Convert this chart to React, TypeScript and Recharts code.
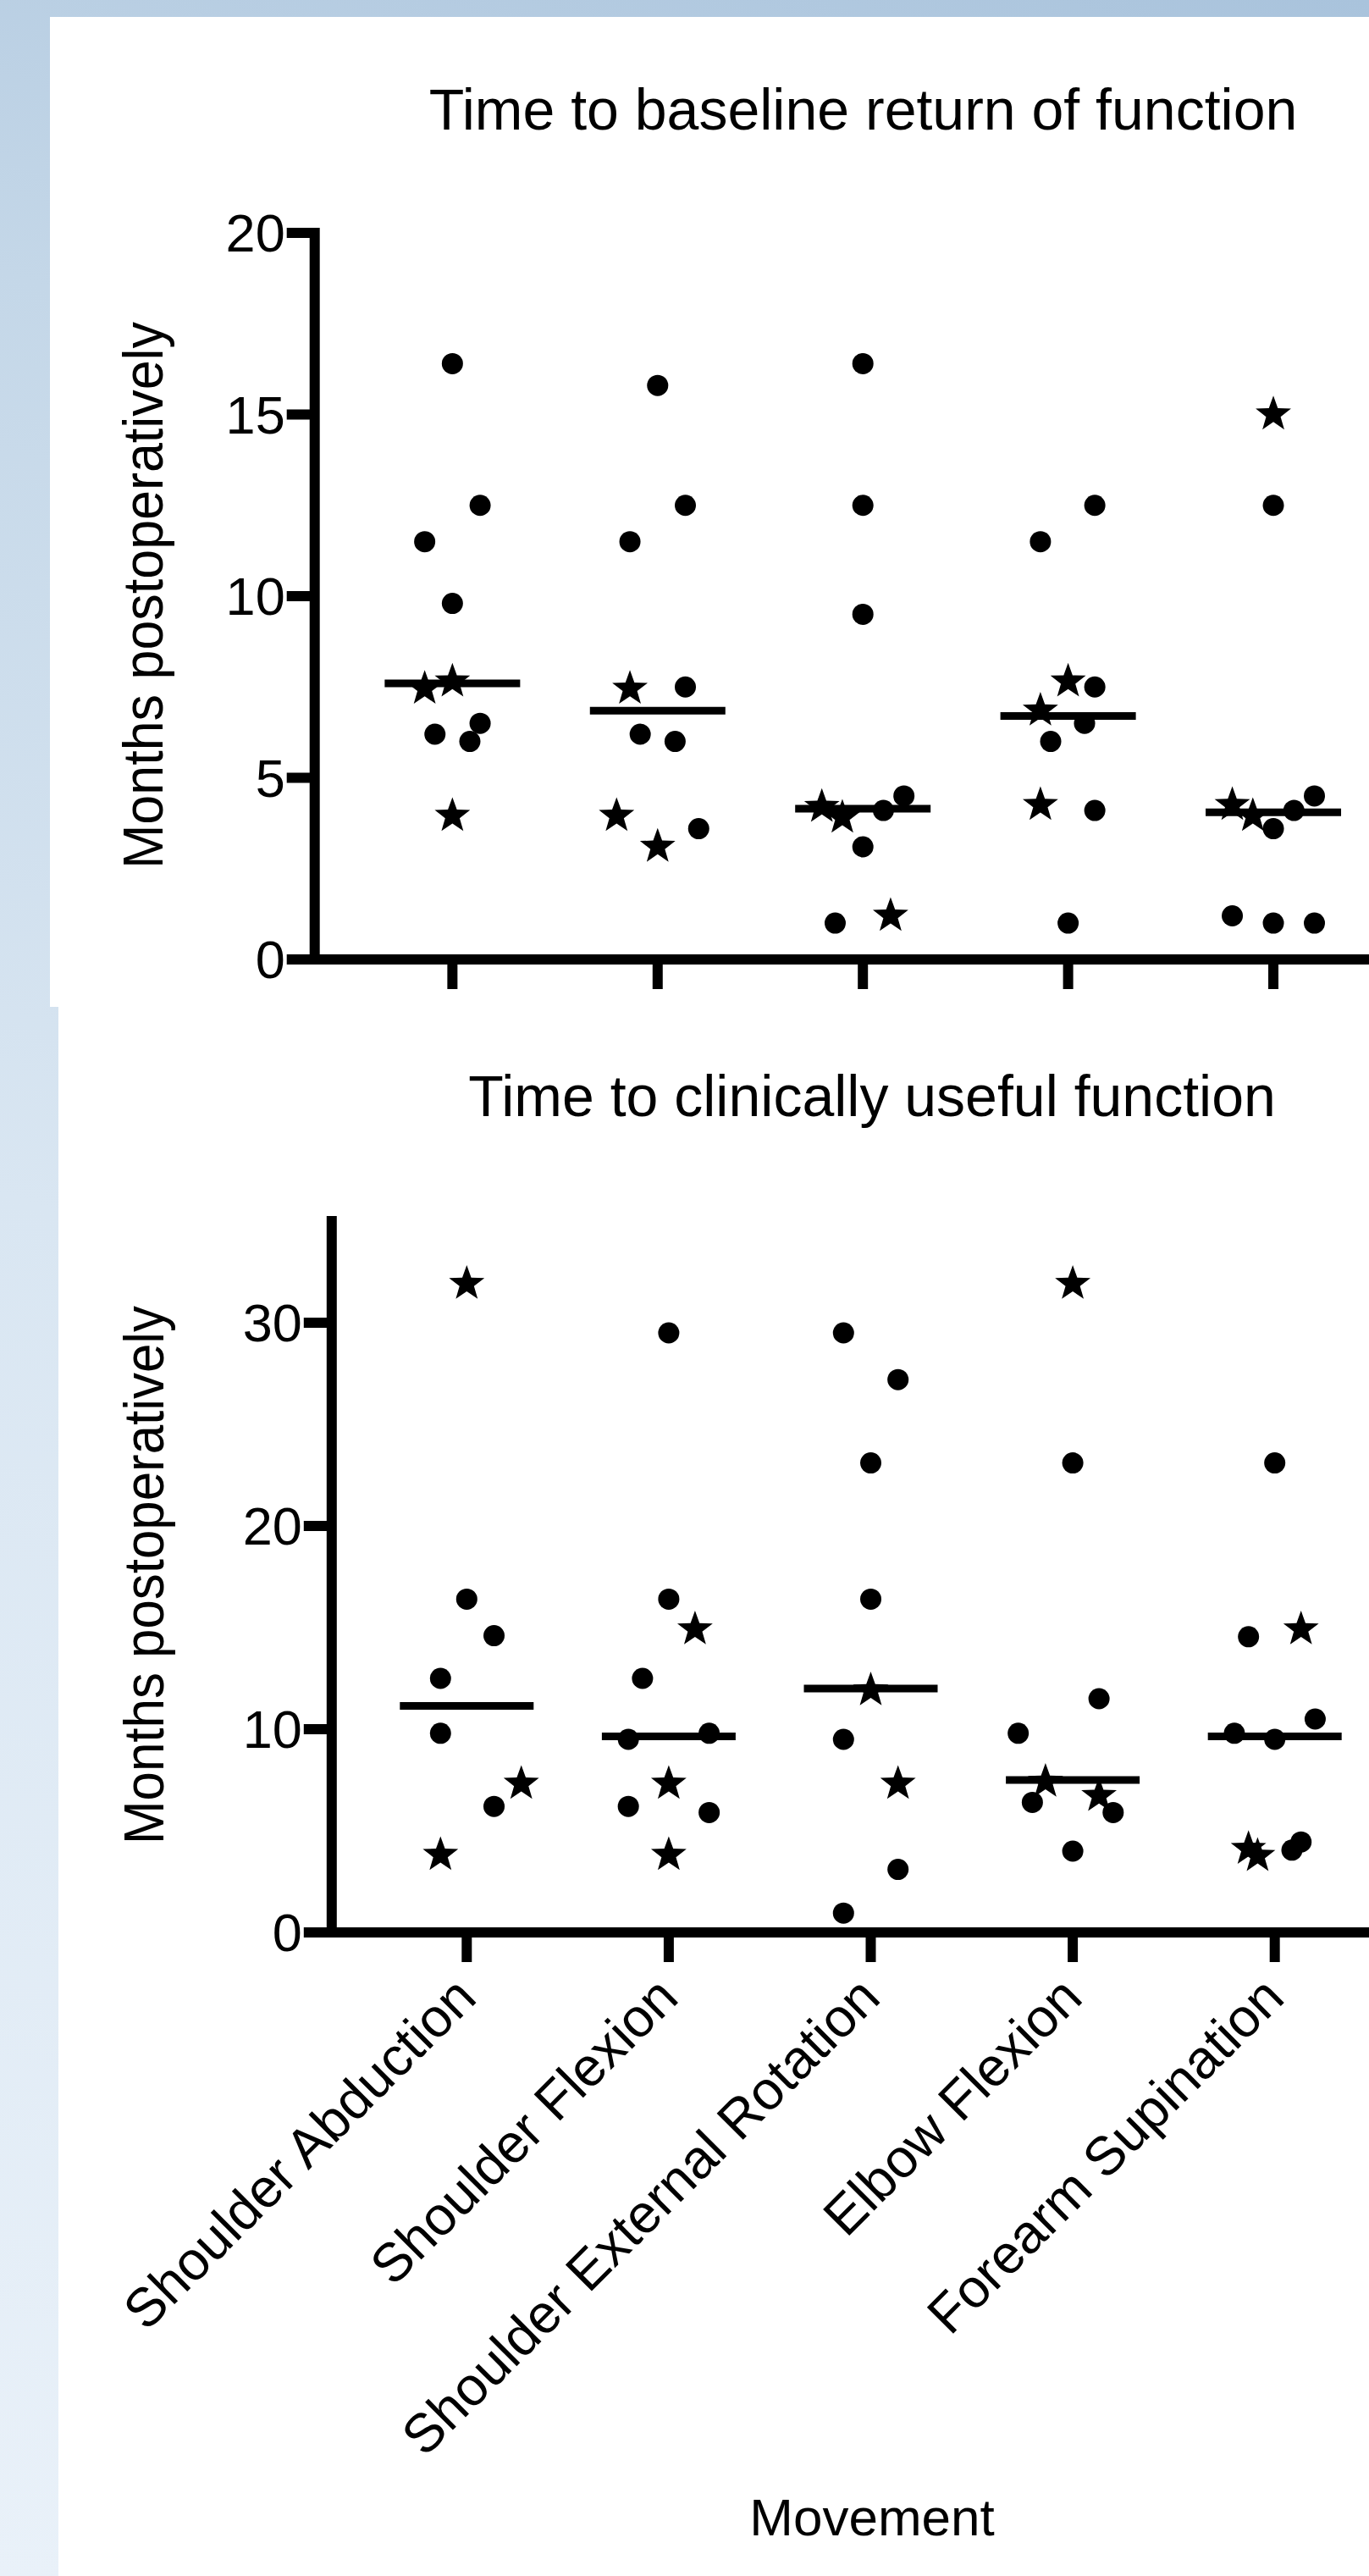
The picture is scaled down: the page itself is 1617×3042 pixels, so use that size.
import { Scatter, ScatterChart, XAxis, YAxis } from "recharts";

const movements = [
  "Shoulder Abduction",
  "Shoulder Flexion",
  "Shoulder External Rotation",
  "Elbow Flexion",
  "Forearm Supination",
];

// rows are [movement 1-5, spread inside the column, months]
const baselineDots = [
  [1, 0, 16.4], [1, 0.135, 12.5], [1, -0.135, 11.5], [1, 0, 9.8], [1, 0.135, 6.5], [1, -0.085, 6.2], [1, 0.085, 6.0],
  [2, 0, 15.8], [2, 0.135, 12.5], [2, -0.135, 11.5], [2, 0.135, 7.5], [2, -0.085, 6.2], [2, 0.085, 6.0], [2, 0.2, 3.6],
  [3, 0, 16.4], [3, 0, 12.5], [3, 0, 9.5], [3, 0.1, 4.1], [3, 0.2, 4.5], [3, 0, 3.1], [3, -0.135, 1.0],
  [4, 0.13, 12.5], [4, -0.135, 11.5], [4, 0.13, 7.5], [4, 0.08, 6.5], [4, -0.085, 6.0], [4, 0.13, 4.1], [4, 0, 1.0],
  [5, 0, 12.5], [5, 0.1, 4.1], [5, 0.2, 4.5], [5, 0, 3.6], [5, -0.2, 1.2], [5, 0, 1.0], [5, 0.2, 1.0],
];

const baselineStars = [
  [1, -0.135, 7.5], [1, 0, 7.7], [1, 0, 4.0],
  [2, -0.135, 7.5], [2, -0.2, 4.0], [2, 0, 3.15],
  [3, -0.2, 4.25], [3, -0.1, 3.95], [3, 0.135, 1.25],
  [4, 0, 7.7], [4, -0.135, 6.9], [4, -0.135, 4.3],
  [5, 0, 15.05], [5, -0.2, 4.3], [5, -0.1, 4.0],
];

const baselineMedians = [7.6, 6.85, 4.15, 6.7, 4.05];

const clinicalDots = [
  [1, 0, 16.4], [1, 0.135, 14.6], [1, -0.13, 12.5], [1, -0.13, 9.8], [1, 0.135, 6.2],
  [2, 0, 29.5], [2, 0, 16.4], [2, -0.13, 12.5], [2, -0.2, 9.5], [2, 0.2, 9.8], [2, -0.2, 6.2], [2, 0.2, 5.9],
  [3, -0.135, 29.5], [3, 0.135, 27.2], [3, 0, 23.1], [3, 0, 16.4], [3, -0.135, 9.5], [3, 0.135, 3.1], [3, -0.135, 0.95],
  [4, 0, 23.1], [4, 0.13, 11.5], [4, -0.27, 9.8], [4, -0.2, 6.4], [4, 0.2, 5.9], [4, 0, 4.0],
  [5, 0, 23.1], [5, -0.13, 14.55], [5, 0.2, 10.5], [5, -0.2, 9.8], [5, 0, 9.5], [5, 0.13, 4.45], [5, 0.085, 4.05],
];

const clinicalStars = [
  [1, 0, 32.0], [1, 0.27, 7.4], [1, -0.13, 3.9],
  [2, 0.13, 15.0], [2, 0, 7.4], [2, 0, 3.9],
  [3, 0, 12.0], [3, 0.135, 7.4],
  [4, 0, 32.0], [4, -0.135, 7.5], [4, 0.13, 6.8],
  [5, 0.13, 15.0], [5, -0.13, 4.2], [5, -0.085, 3.85],
];

const clinicalMedians = [11.15, 9.65, 12.0, 7.5, 9.65];

const baselineTicks = [0, 5, 10, 15, 20];
const clinicalTicks = [0, 10, 20, 30];
const movementTicks = [1, 2, 3, 4, 5];

const FONT = '"Liberation Sans", Arimo, Arial, Helvetica, sans-serif';
const INK = "#000";

const toPoints = (rows: number[][]) => rows.map(([movement, spread, months]) => ({ x: movement + spread, y: months }));
const medianPoints = (values: number[]) => values.map((months, i) => ({ x: i + 1, y: months }));

function Dot({ cx, cy }: any) {
  return <circle cx={cx} cy={cy} r={12.5} fill={INK} />;
}

function Star({ cx, cy }: any) {
  const pts: string[] = [];
  for (let i = 0; i < 10; i++) {
    const r = i % 2 === 0 ? 22 : 9;
    const a = -Math.PI / 2 + (i * Math.PI) / 5;
    pts.push(`${cx + r * Math.cos(a)},${cy + 2 + r * Math.sin(a)}`);
  }
  return <polygon points={pts.join(" ")} fill={INK} />;
}

const medianShape = (half: number) =>
  function Median({ cx, cy }: any) {
    return <line x1={cx - half} x2={cx + half} y1={cy} y2={cy} stroke={INK} strokeWidth={9} />;
  };

function MovementTick({ x, y, payload }: any) {
  const label = movements[Math.round(payload.value) - 1];
  const ax = x + 14;
  const ay = y + 43;
  return (
    <text x={ax} y={ay} transform={`rotate(-45, ${ax}, ${ay})`} textAnchor="end" fontSize={64} fontFamily={FONT} fill={INK}>
      {label}
    </text>
  );
}

// top panel keeps its tick marks but shows no names
const NoLabel = () => <g />;

const axisLine = { stroke: INK, strokeWidth: 12, strokeLinecap: "square" as const };
const tickLine = { stroke: INK, strokeWidth: 12 };

function Panel(props: {
  top: number;
  height: number;
  plotTop: number;
  axisX: number;
  span: number[];
  xHeight: number;
  yDomain: number[];
  yTicks: number[];
  dots: number[][];
  stars: number[][];
  medians: number[];
  half: number;
  labels: boolean;
}) {
  return (
    <div style={{ position: "absolute", left: 0, top: props.top, width: 1617, height: props.height }}>
      <ScatterChart width={1617} height={props.height} margin={{ top: props.plotTop, right: 0, bottom: 0, left: props.axisX - 80 }}>
        <XAxis
          type="number"
          dataKey="x"
          domain={props.span}
          allowDataOverflow
          ticks={movementTicks}
          interval={0}
          height={props.xHeight}
          tickSize={35}
          axisLine={axisLine}
          tickLine={tickLine}
          tick={props.labels ? MovementTick : NoLabel}
        />
        <YAxis
          type="number"
          dataKey="y"
          domain={props.yDomain}
          allowDataOverflow
          ticks={props.yTicks}
          interval={0}
          width={80}
          tickSize={33}
          axisLine={axisLine}
          tickLine={tickLine}
          tick={{ fill: INK, fontSize: 63, fontFamily: FONT }}
        />
        <Scatter data={toPoints(props.dots)} shape={Dot} isAnimationActive={false} />
        <Scatter data={toPoints(props.stars)} shape={Star} isAnimationActive={false} />
        <Scatter data={medianPoints(props.medians)} shape={medianShape(props.half)} isAnimationActive={false} />
      </ScatterChart>
    </div>
  );
}

export default function App() {
  return (
    <div
      style={{
        position: "absolute",
        left: 0,
        top: 0,
        width: 1617,
        height: 3042,
        overflow: "hidden",
        background: "linear-gradient(200deg, #a9c3dc 0%, #c4d7e8 25%, #d9e6f2 55%, #e9f1f9 100%)",
      }}
    >
      <div style={{ position: "absolute", left: 59, top: 20, width: 1558, height: 1169, background: "#fff" }} />
      <div style={{ position: "absolute", left: 69, top: 1189, width: 1548, height: 1853, background: "#fff" }} />

      <Panel
        top={0}
        height={1189}
        plotTop={275}
        axisX={371.7}
        span={[0.329, 5.466]}
        xHeight={56}
        yDomain={[0, 20]}
        yTicks={baselineTicks}
        dots={baselineDots}
        stars={baselineStars}
        medians={baselineMedians}
        half={80}
        labels={false}
      />
      <Panel
        top={1189}
        height={1853}
        plotTop={253}
        axisX={391.8}
        span={[0.3315, 5.4665]}
        xHeight={760}
        yDomain={[0, 35]}
        yTicks={clinicalTicks}
        dots={clinicalDots}
        stars={clinicalStars}
        medians={clinicalMedians}
        half={79}
        labels={true}
      />

      <svg width={1617} height={3042} style={{ position: "absolute", left: 0, top: 0, pointerEvents: "none" }} fontFamily={FONT} fill={INK}>
        <text x={1019.5} y={153} fontSize={68} textAnchor="middle">
          Time to baseline return of function
        </text>
        <text x={192} y={703} fontSize={66} textAnchor="middle" transform="rotate(-90, 192, 703)" textLength={646} lengthAdjust="spacingAndGlyphs">
          Months postoperatively
        </text>
        <text x={1030} y={1317.5} fontSize={68} textAnchor="middle">
          Time to clinically useful function
        </text>
        <text x={192.7} y={1860} fontSize={66} textAnchor="middle" transform="rotate(-90, 192.7, 1860)" textLength={636} lengthAdjust="spacingAndGlyphs">
          Months postoperatively
        </text>
        <text x={1030} y={2994} fontSize={62} textAnchor="middle">
          Movement
        </text>
      </svg>
    </div>
  );
}
